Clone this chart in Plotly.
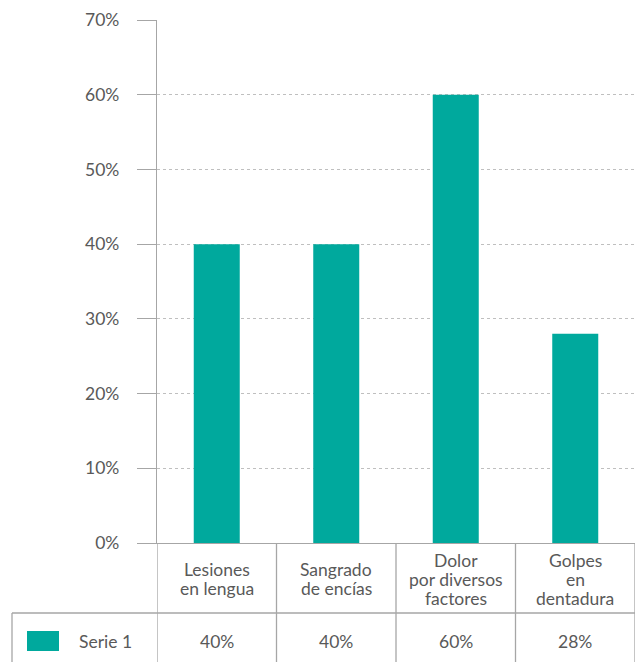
import plotly.graph_objects as go

# Chart data
categories = ["Lesiones<br>en lengua", "Sangrado<br>de encías", "Dolor<br>por diversos<br>factores", "Golpes<br>en<br>dentadura"]
values = [0.40, 0.40, 0.60, 0.28]
series_name = "Serie 1"
y_ticks = [0, 0.1, 0.2, 0.3, 0.4, 0.5, 0.6, 0.7]

BAR_COLOR = "#00A99D"
TEXT_COLOR = "#595959"
LINE_COLOR = "#A6A6A6"
FONT = "Lato"
FONT_SIZE = 17.5
LINE_STEP = 19  # pixel spacing between lines of a header cell

W, H = 637, 662
M_L, M_R, M_T, M_B = 157, 2, 20, 119
plot_w = W - M_L - M_R
plot_h = H - M_T - M_B


def py(px_below_axis):
    """Paper y for a pixel distance below the x axis."""
    return -px_below_axis / plot_h


def px(x_pixel):
    """Paper x for an absolute pixel x."""
    return (x_pixel - M_L) / plot_w


x_idx = list(range(len(categories)))

fig = go.Figure(go.Bar(
    x=x_idx, y=values, name=series_name,
    marker=dict(color=BAR_COLOR, line=dict(width=0)),
    width=0.385,
))

shapes = []
annotations = []
font = dict(family=FONT, size=FONT_SIZE, color=TEXT_COLOR)

# Data table: vertical separators between categories
for b in [i - 0.5 for i in range(len(categories) + 1)]:
    shapes.append(dict(type="line", xref="x", yref="paper", x0=b, x1=b,
                       y0=0, y1=py(M_B), line=dict(color=LINE_COLOR, width=1.3)))
# Row separator and left border of the data row
row_y = py(70)
shapes.append(dict(type="line", xref="paper", yref="paper", x0=px(12), x1=1,
                   y0=row_y, y1=row_y, line=dict(color=LINE_COLOR, width=1.3)))
shapes.append(dict(type="line", xref="paper", yref="paper", x0=px(12), x1=px(12),
                   y0=row_y, y1=py(M_B), line=dict(color=LINE_COLOR, width=1.3)))
# Legend key
shapes.append(dict(type="rect", xref="paper", yref="paper", x0=px(27), x1=px(59),
                   y0=py(88), y1=py(108), fillcolor=BAR_COLOR, line=dict(width=0)))

# Header row with category names (one annotation per line), data row with values
for i, (cat, v) in enumerate(zip(categories, values)):
    lines = cat.split("<br>")
    n = len(lines)
    for k, line in enumerate(lines):
        offset = 36 + (k - (n - 1) / 2) * LINE_STEP
        annotations.append(dict(x=i, y=py(offset), xref="x", yref="paper", text=line,
                                showarrow=False, yanchor="middle", xanchor="center",
                                font=font))
    annotations.append(dict(x=i, y=py(98), xref="x", yref="paper", text=f"{v:.0%}",
                            showarrow=False, yanchor="middle", xanchor="center",
                            font=font))
annotations.append(dict(x=px(77), y=py(98), xref="paper", yref="paper", text=series_name,
                        showarrow=False, yanchor="middle", xanchor="left",
                        font=font))

fig.update_layout(
    width=W, height=H,
    margin=dict(l=M_L, r=M_R, t=M_T, b=M_B),
    paper_bgcolor="white", plot_bgcolor="white",
    showlegend=False,
    shapes=shapes, annotations=annotations,
    xaxis=dict(range=[-0.5, len(categories) - 0.5], showticklabels=False,
               showgrid=False, zeroline=False, showline=True,
               linecolor=LINE_COLOR, linewidth=1.3, ticks=""),
    yaxis=dict(range=[0, 0.7], tickvals=y_ticks, tickformat=".0%",
               showline=True, linecolor=LINE_COLOR, linewidth=1.3,
               ticks="outside", ticklen=19, tickcolor=LINE_COLOR, tickwidth=1.3,
               ticklabelstandoff=14,
               showgrid=True, gridcolor="#BFBFBF", griddash="3px,3px", gridwidth=1,
               zeroline=False,
               tickfont=font),
)

fig.write_html("out.html")
